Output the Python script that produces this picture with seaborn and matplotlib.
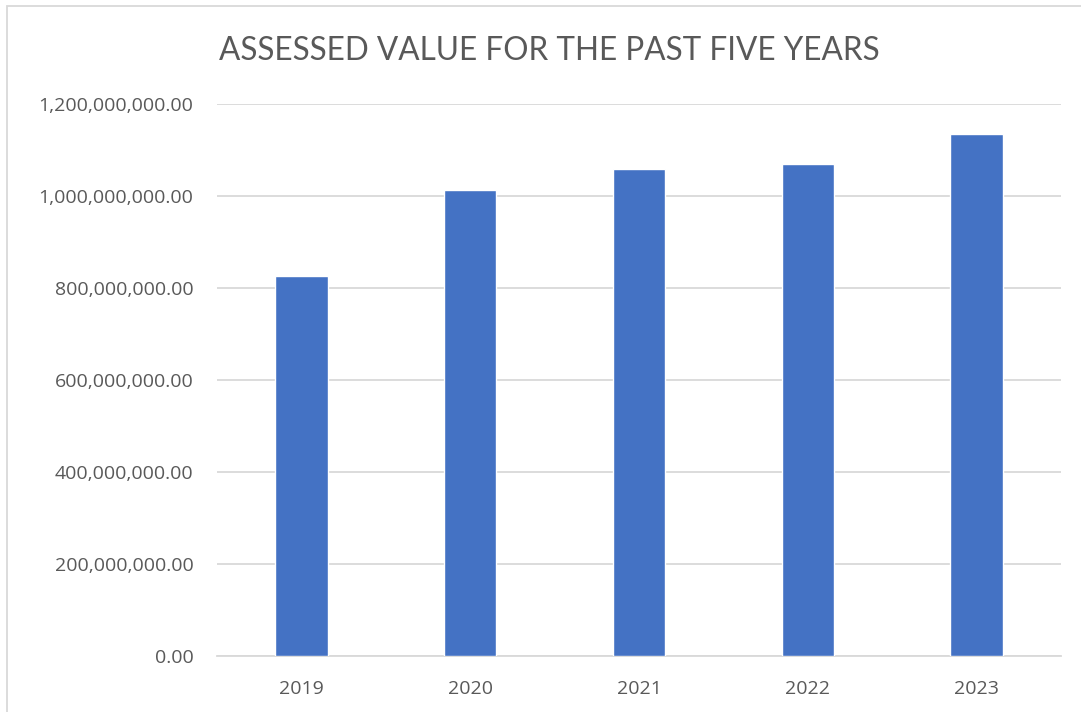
import matplotlib
matplotlib.use("Agg")
import matplotlib.pyplot as plt
import matplotlib.patches as mpatches
from matplotlib.ticker import FuncFormatter, MultipleLocator
import seaborn as sns
import pandas as pd

# Assessed value by year
years = ["2019", "2020", "2021", "2022", "2023"]
assessed_values = [826_000_000, 1_013_000_000, 1_058_000_000, 1_069_000_000, 1_135_000_000]

title_text = "ASSESSED VALUE FOR THE PAST FIVE YEARS"

sns.set_theme(style="white")
plt.rcParams["font.family"] = ["Open Sans", "DejaVu Sans"]

df = pd.DataFrame({"year": years, "value": assessed_values})

fig = plt.figure(figsize=(10.81, 7.12), dpi=100)
ax = fig.add_axes([217 / 1081, 1 - 656 / 712, (1061 - 217) / 1081, (656 - 104) / 712])

sns.barplot(data=df, x="year", y="value", color="#4472C4", saturation=1,
            width=0.31, ax=ax, zorder=3)

ax.set_ylim(0, 1.2e9)
ax.yaxis.set_major_locator(MultipleLocator(2e8))
ax.yaxis.set_major_formatter(FuncFormatter(lambda v, _: f"{v:,.2f}"))
ax.grid(axis="y", color="#d9d9d9", linewidth=1.3, zorder=0)
ax.set_axisbelow(True)
for side in ["top", "right", "left"]:
    ax.spines[side].set_visible(False)
ax.spines["bottom"].set_color("#d9d9d9")
ax.spines["bottom"].set_linewidth(1.3)
ax.set_xlabel("")
ax.set_ylabel("")
ax.tick_params(axis="both", length=0, labelsize=14, labelcolor="#595959")
ax.tick_params(axis="y", pad=17)
ax.tick_params(axis="x", pad=17)

fig.text(549 / 1081, 1 - 51 / 712, title_text, ha="center", va="center",
         fontsize=22.7, color="#595959", family=["Lato", "DejaVu Sans"])

# Chart-area outline
border = mpatches.Rectangle((7 / 1081, -0.05), 1.1, 1 - 6 / 712 + 0.05,
                            transform=fig.transFigure, fill=False,
                            edgecolor="#d9d9d9", linewidth=1.3)
fig.patches.append(border)

fig.savefig("out.png", dpi=100)
